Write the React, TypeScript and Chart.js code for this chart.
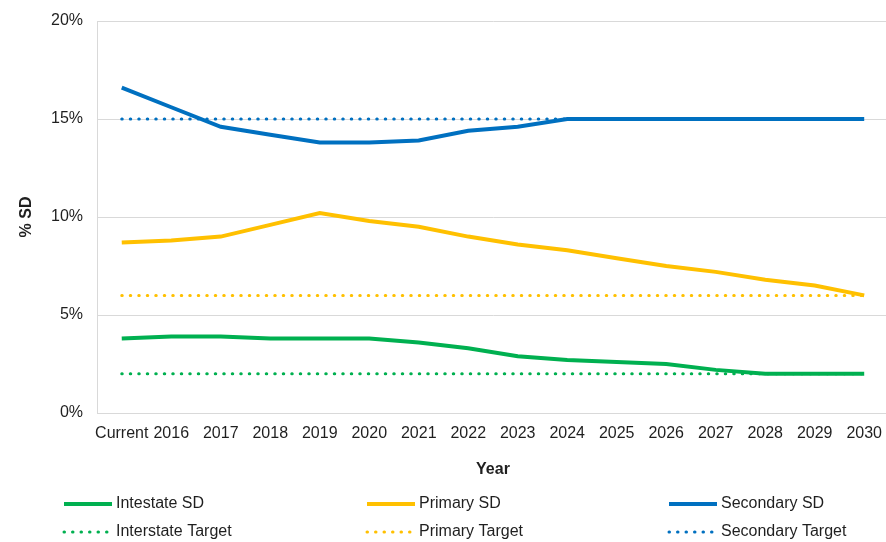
import React, { useEffect, useRef } from "react";
import { Chart, registerables } from "chart.js";

Chart.register(...registerables);

const categories = [
  "Current", "2016", "2017", "2018", "2019", "2020", "2021", "2022",
  "2023", "2024", "2025", "2026", "2027", "2028", "2029", "2030",
];

const intestateSD = [3.8, 3.9, 3.9, 3.8, 3.8, 3.8, 3.6, 3.3, 2.9, 2.7, 2.6, 2.5, 2.2, 2.0, 2.0, 2.0];
const primarySD = [8.7, 8.8, 9.0, 9.6, 10.2, 9.8, 9.5, 9.0, 8.6, 8.3, 7.9, 7.5, 7.2, 6.8, 6.5, 6.0];
const secondarySD = [16.6, 15.6, 14.6, 14.2, 13.8, 13.8, 13.9, 14.4, 14.6, 15.0, 15.0, 15.0, 15.0, 15.0, 15.0, 15.0];
const interstateTarget = [2, 2, 2, 2, 2, 2, 2, 2, 2, 2, 2, 2, 2, 2, 2, 2];
const primaryTarget = [6, 6, 6, 6, 6, 6, 6, 6, 6, 6, 6, 6, 6, 6, 6, 6];
const secondaryTarget = [15, 15, 15, 15, 15, 15, 15, 15, 15, 15, 15, 15, 15, 15, 15, 15];

const legendLabels = [
  "Intestate SD", "Primary SD", "Secondary SD",
  "Interstate Target", "Primary Target", "Secondary Target",
];

const yAxisTitle = "% SD";
const xAxisTitle = "Year";

const GREEN = "#00B050";
const YELLOW = "#FFC000";
const BLUE = "#0070C0";
const GRID = "#D9D9D9";
const TEXT = "#1F1F1F";
const FONT = "'Liberation Sans', Arial, sans-serif";

const DOT_DASH = [0.5, 8];

const legendPlugin = {
  id: "gridLegend",
  afterDraw(chart: any) {
    const ctx = chart.ctx;
    const colX = [63, 366, 668];
    const rowY = [504, 532];
    const items = [
      { label: legendLabels[0], color: GREEN, dotted: false },
      { label: legendLabels[1], color: YELLOW, dotted: false },
      { label: legendLabels[2], color: BLUE, dotted: false },
      { label: legendLabels[3], color: GREEN, dotted: true },
      { label: legendLabels[4], color: YELLOW, dotted: true },
      { label: legendLabels[5], color: BLUE, dotted: true },
    ];
    ctx.save();
    items.forEach((it, i) => {
      const x0 = colX[i % 3];
      const y = rowY[Math.floor(i / 3)];
      ctx.beginPath();
      ctx.strokeStyle = it.color;
      if (it.dotted) {
        ctx.lineWidth = 3;
        ctx.lineCap = "round";
        ctx.setLineDash(DOT_DASH);
      } else {
        ctx.lineWidth = 4;
        ctx.lineCap = "butt";
        ctx.setLineDash([]);
      }
      ctx.moveTo(x0 + 1, y);
      ctx.lineTo(x0 + 49, y);
      ctx.stroke();
      ctx.setLineDash([]);
      ctx.fillStyle = TEXT;
      ctx.font = `16px ${FONT}`;
      ctx.textBaseline = "middle";
      ctx.textAlign = "left";
      ctx.fillText(it.label, x0 + 53, y);
    });
    ctx.restore();
  },
};

export default function App() {
  const ref = useRef<HTMLCanvasElement>(null);

  useEffect(() => {
    if (!ref.current) return;
    const solid = (label: string, data: number[], color: string) => ({
      label,
      data,
      borderColor: color,
      backgroundColor: color,
      borderWidth: 4,
      pointRadius: 0,
      tension: 0,
      fill: false,
    });
    const dotted = (label: string, data: number[], color: string) => ({
      label,
      data,
      borderColor: color,
      backgroundColor: color,
      borderWidth: 3,
      borderDash: DOT_DASH,
      borderCapStyle: "round",
      pointRadius: 0,
      tension: 0,
      fill: false,
    });

    const chart = new Chart(ref.current, {
      type: "line",
      data: {
        labels: categories,
        datasets: [
          solid(legendLabels[2], secondarySD, BLUE),
          solid(legendLabels[1], primarySD, YELLOW),
          solid(legendLabels[0], intestateSD, GREEN),
          dotted(legendLabels[5], secondaryTarget, BLUE),
          dotted(legendLabels[4], primaryTarget, YELLOW),
          dotted(legendLabels[3], interstateTarget, GREEN),
        ] as any,
      },
      options: {
        animation: false,
        responsive: false,
        devicePixelRatio: 1,
        layout: { padding: { top: 21, left: 0, right: 0, bottom: 60 } },
        plugins: {
          legend: { display: false },
          tooltip: { enabled: false },
        },
        scales: {
          x: {
            offset: true,
            grid: { display: false, drawTicks: false },
            border: { display: true, color: GRID, width: 1 },
            ticks: {
              color: TEXT,
              font: { family: FONT, size: 16 },
              padding: 11,
              maxRotation: 0,
              autoSkip: false,
            },
            title: {
              display: true,
              text: xAxisTitle,
              color: TEXT,
              font: { family: FONT, size: 16, weight: "bold" },
              padding: { top: 0, bottom: 3 },
            },
            afterFit(scale: any) {
              scale.height = 69;
            },
          },
          y: {
            min: 0,
            max: 20,
            grid: { color: GRID, lineWidth: 1, drawTicks: false },
            border: { display: true, color: GRID, width: 1 },
            ticks: {
              stepSize: 5,
              color: TEXT,
              font: { family: FONT, size: 16 },
              padding: 14,
              callback: (v: any) => `${v}%`,
            },
            title: {
              display: true,
              text: yAxisTitle,
              color: TEXT,
              font: { family: FONT, size: 16, weight: "bold" },
              padding: { top: 17, bottom: 0 },
            },
            afterFit(scale: any) {
              scale.width = 97;
              scale.paddingTop = 0;
              scale.paddingBottom = 0;
            },
          },
        },
      },
      plugins: [legendPlugin],
    } as any);
    return () => chart.destroy();
  }, []);

  return (
    <div style={{ position: "fixed", left: 0, top: 0, width: 886, height: 542, overflow: "hidden", background: "#fff" }}>
      <canvas ref={ref} width={893} height={542} style={{ display: "block" }} />
    </div>
  );
}
